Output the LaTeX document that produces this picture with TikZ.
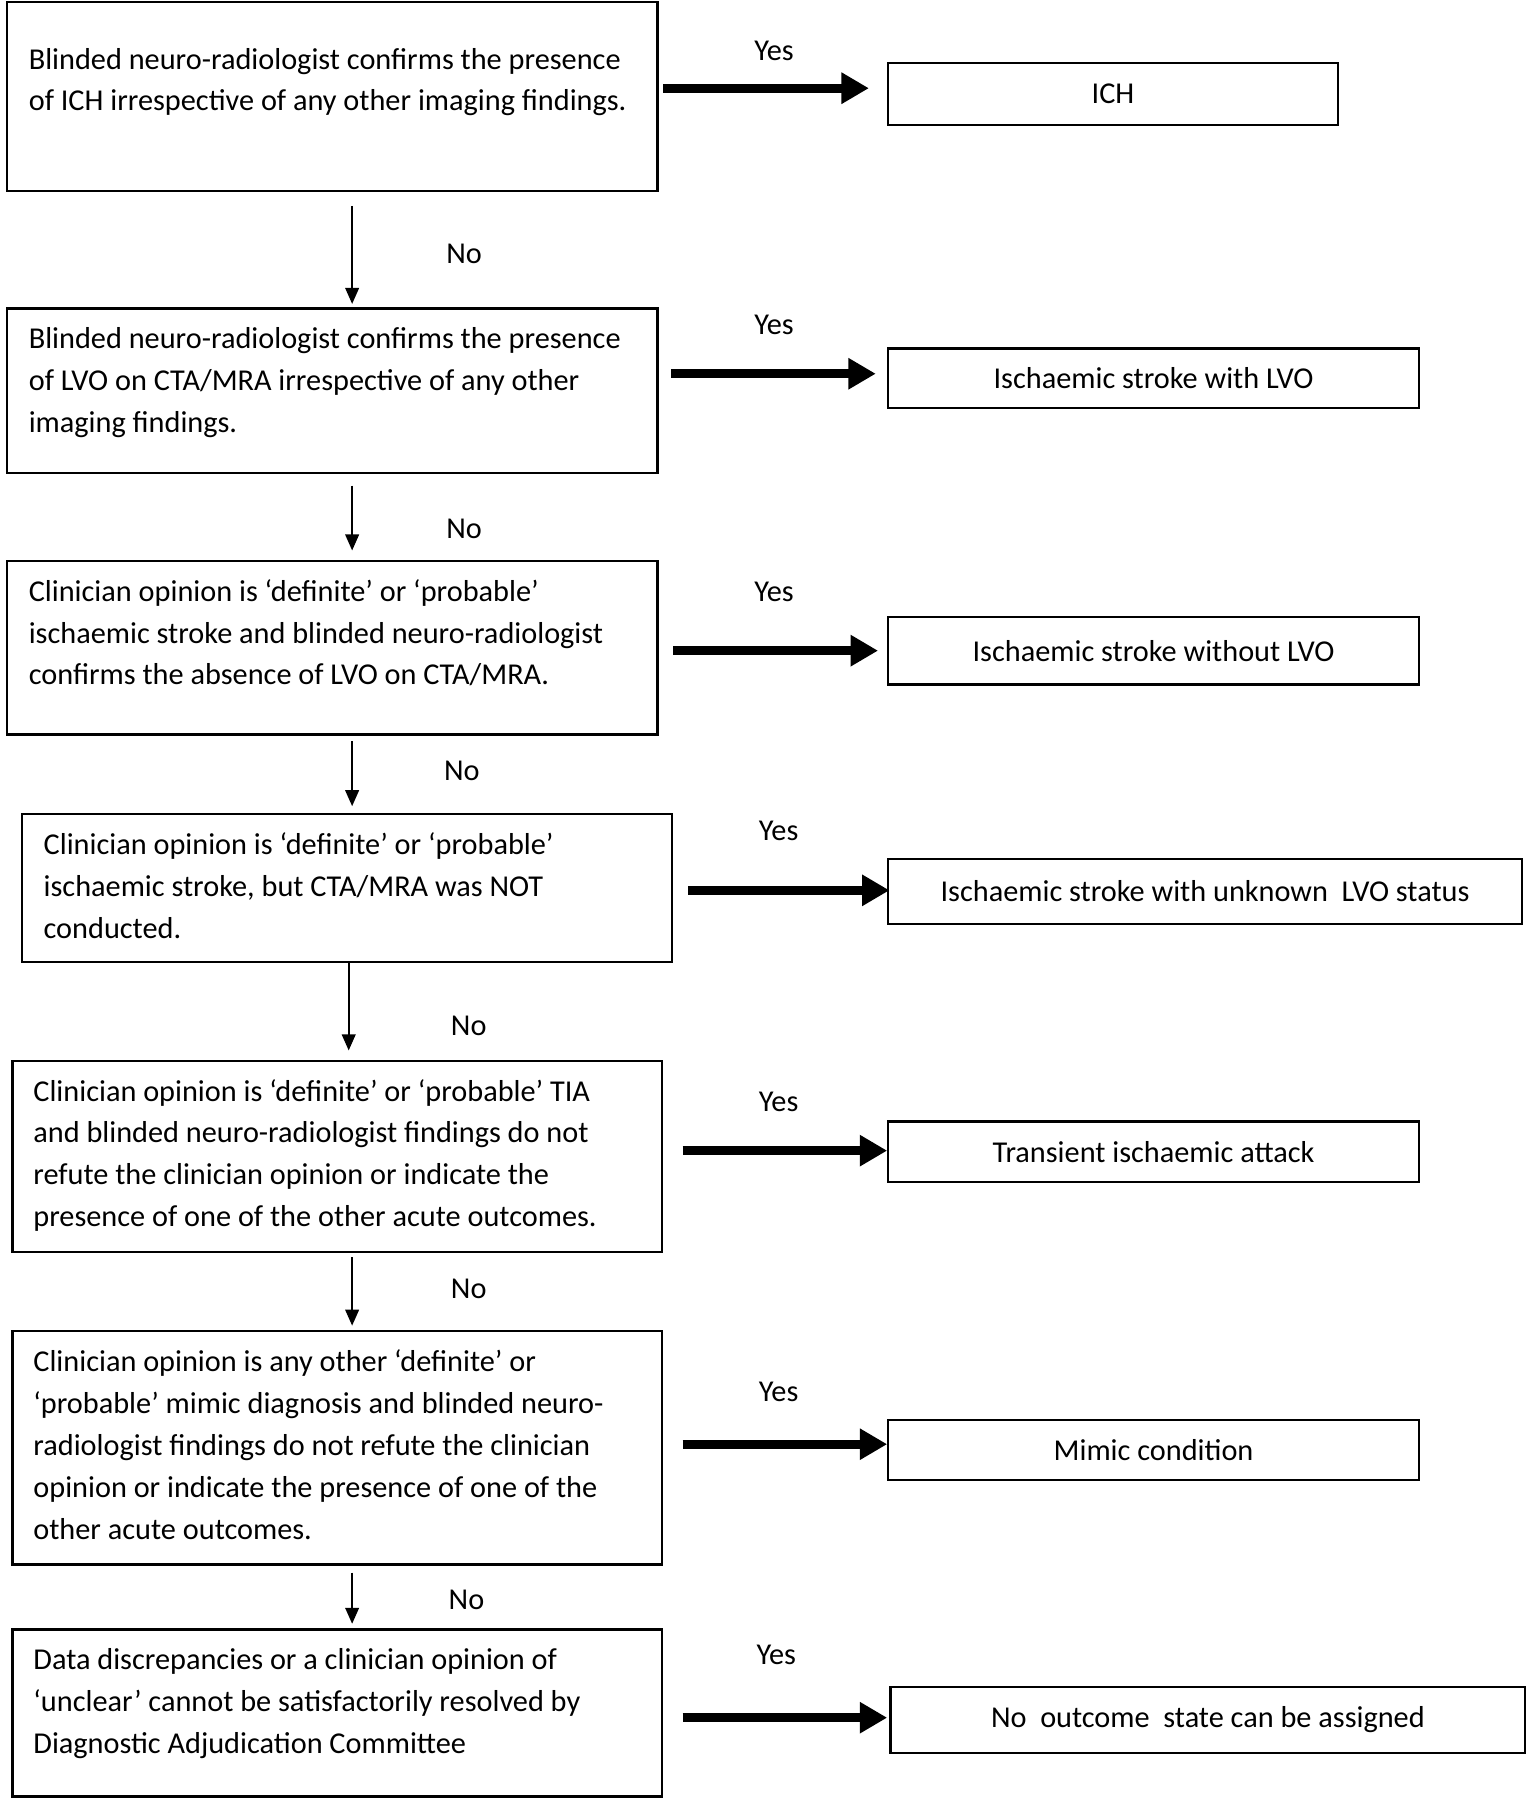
\documentclass[tikz,border=0pt]{standalone}
\usepackage{fontspec}
\setmainfont{Carlito}
\usetikzlibrary{arrows.meta,calc}
\begin{document}
\begin{tikzpicture}[x=1pt,y=-1.003pt,
  box/.style={draw,line width=2pt,inner sep=0pt,anchor=north west},
  txt/.style={inner sep=0pt,anchor=north west,align=left,font=\fontsize{26.5}{36.6}\selectfont},
  outbox/.style={draw,line width=2pt,inner sep=0pt,anchor=north west,font=\fontsize{26.5}{30}\selectfont},
  yesarr/.style={line width=8pt,-{Triangle[length=24pt,width=26pt]}},
  noarr/.style={line width=1.5pt,-{Triangle[length=14pt,width=12pt]}},
  lbl/.style={font=\fontsize{26.5}{30}\selectfont,inner sep=0pt}]
\useasboundingbox[fill=white] (0,0) rectangle (1340,1569.7);
% decision boxes
\node[box,minimum width=569pt,minimum height=165pt] (b1) at (5,1) {};
\node[box,minimum width=569pt,minimum height=144pt] (b2) at (5,268) {};
\node[box,minimum width=569pt,minimum height=152pt] (b3) at (5,488) {};
\node[box,minimum width=569pt,minimum height=129pt] (b4) at (18,709) {};
\node[box,minimum width=568pt,minimum height=167pt] (b5) at (10,924) {};
\node[box,minimum width=568pt,minimum height=204pt] (b6) at (10,1160) {};
\node[box,minimum width=568pt,minimum height=146pt] (b7) at (10,1420) {};
% texts
\node[txt] (t1) at ($(b1.north west)+(20,33.5)$) {\strut Blinded neuro-radiologist confirms the presence\\of ICH irrespective of any other imaging findings.};
\node[txt] (t2) at ($(b2.north west)+(20,10.5)$) {\strut Blinded neuro-radiologist confirms the presence\\of LVO on CTA/MRA irrespective of any other\\imaging findings.};
\node[txt] (t3) at ($(b3.north west)+(20,10.5)$) {\strut Clinician opinion is ‘definite’ or ‘probable’\\ischaemic stroke and blinded neuro-radiologist\\confirms the absence of LVO on CTA/MRA.};
\node[txt] (t4) at ($(b4.north west)+(20,10.5)$) {\strut Clinician opinion is ‘definite’ or ‘probable’\\ischaemic stroke, but CTA/MRA was NOT\\conducted.};
\node[txt] (t5) at ($(b5.north west)+(19,10.5)$) {\strut Clinician opinion is ‘definite’ or ‘probable’ TIA\\and blinded neuro-radiologist findings do not\\refute the clinician opinion or indicate the\\presence of one of the other acute outcomes.};
\node[txt] (t6) at ($(b6.north west)+(19,10.5)$) {\strut Clinician opinion is any other ‘definite’ or\\‘probable’ mimic diagnosis and blinded neuro-\\radiologist findings do not refute the clinician\\opinion or indicate the presence of one of the\\other acute outcomes.};
\node[txt] (t7) at ($(b7.north west)+(19,10.5)$) {\strut Data discrepancies or a clinician opinion of\\‘unclear’ cannot be satisfactorily resolved by\\Diagnostic Adjudication Committee};
% outcome boxes
\node[outbox,minimum width=393pt,minimum height=54pt] (o1) at (776,54) {ICH};
\node[outbox,minimum width=464pt,minimum height=52pt] (o2) at (776,303) {Ischaemic stroke with LVO};
\node[outbox,minimum width=464pt,minimum height=59pt] (o3) at (776,537) {Ischaemic stroke without LVO};
\node[outbox,minimum width=554pt,minimum height=57pt] (o4) at (776,748) {Ischaemic stroke with unknown\ \ LVO status};
\node[outbox,minimum width=464pt,minimum height=53pt] (o5) at (776,977) {Transient ischaemic attack};
\node[outbox,minimum width=464pt,minimum height=53pt] (o6) at (776,1237) {Mimic condition};
\node[outbox,minimum width=555pt,minimum height=58pt] (o7) at (778,1470) {No\ \ outcome\ \ state can be assigned};
% yes arrows
\draw[yesarr] ($(b1.east |- o1.west)+(4,-5)$) -- ($(o1.west)+(-16,-5)$);
\draw[yesarr] ($(b2.east |- o2.west)+(11,-4)$) -- ($(o2.west)+(-10,-4)$);
\draw[yesarr] ($(b3.east |- o3.west)+(13,0)$) -- ($(o3.west)+(-8,0)$);
\draw[yesarr] ($(b4.east |- o4.west)+(13,-1)$) -- ($(o4.west)+(2,-1)$);
\draw[yesarr] ($(b5.east |- o5.west)+(17,-1)$) -- ($(o5.west)+(0,-1)$);
\draw[yesarr] ($(b6.east |- o6.west)+(17,-5)$) -- ($(o6.west)+(0,-5)$);
\draw[yesarr] ($(b7.east |- o7.west)+(17,-2)$) -- ($(o7.west)+(-2,-2)$);
% yes labels
\node[lbl] (y1) at (677,44) {Yes};
\node[lbl] (y2) at (677,283) {Yes};
\node[lbl] (y3) at (677,516) {Yes};
\node[lbl] (y4) at (681,725) {Yes};
\node[lbl] (y5) at (681,961) {Yes};
\node[lbl] (y6) at (681,1214) {Yes};
\node[lbl] (y7) at (679,1443) {Yes};
% no arrows
\coordinate (cx) at (308,0);
\coordinate (cy) at (305,0);
\draw[noarr,shorten <=12pt,shorten >=3pt] (b1.south -| cx) -- (b2.north -| cx);
\draw[noarr,shorten <=10pt,shorten >=8pt] (b2.south -| cx) -- (b3.north -| cx);
\draw[noarr,shorten <=5pt,shorten >=6pt] (b3.south -| cx) -- (b4.north -| cx);
\draw[noarr,shorten >=8pt] (b4.south -| cy) -- (b5.north -| cy);
\draw[noarr,shorten <=4pt,shorten >=4pt] (b5.south -| cx) -- (b6.north -| cx);
\draw[noarr,shorten <=6pt,shorten >=4pt] (b6.south -| cx) -- (b7.north -| cx);
% no labels
\node[lbl] (n1) at (406,221) {No};
\node[lbl] (n2) at (406,461) {No};
\node[lbl] (n3) at (404,672) {No};
\node[lbl] (n4) at (410,895) {No};
\node[lbl] (n5) at (410,1124) {No};
\node[lbl] (n6) at (408,1395) {No};
\end{tikzpicture}
\end{document}
